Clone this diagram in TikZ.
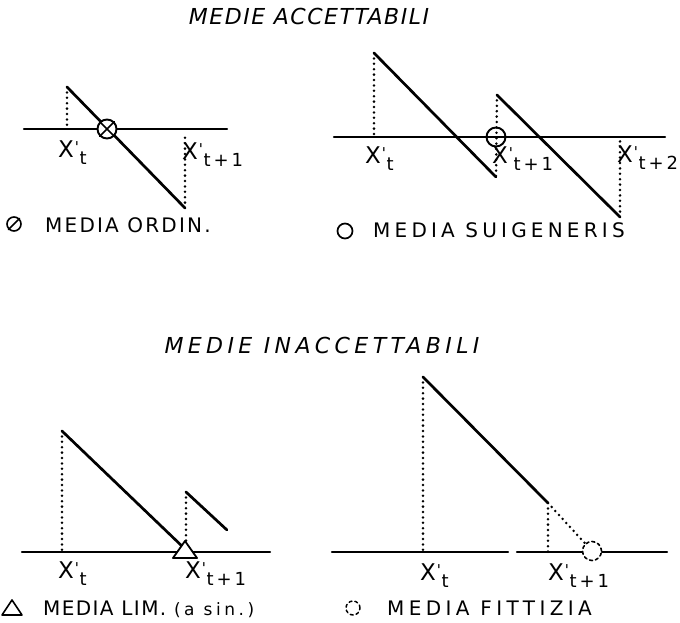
\documentclass[tikz,border=0pt]{standalone}
\usepackage{fontspec}
\newfontfamily\hand{DejaVu Sans}
\usetikzlibrary{calc}

\newcommand{\xsub}[1]{X\kern1pt\raisebox{5pt}{\fontsize{15}{15}\selectfont\textquotesingle}\kern0.5pt\raisebox{-7pt}{\fontsize{18}{18}\selectfont\addfontfeature{LetterSpace=10}#1}}

\begin{document}
\begin{tikzpicture}[x=1pt, y=-1pt, line cap=round, line join=round,
  axis/.style={line width=2.2pt},
  trend/.style={line width=2.7pt},
  guide/.style={line width=2.8pt, dash pattern=on 0pt off 5.4pt},
  xlab/.style={font=\hand\fontsize{23}{23}\selectfont, inner sep=0pt, anchor=base west},
  legend/.style={font=\hand\fontsize{20}{20}\selectfont, inner sep=0pt, anchor=base west},
  heading/.style={font=\hand\itshape\fontsize{22}{22}\selectfont, inner sep=0pt}]
  \useasboundingbox (0,0) rectangle (680,622);

  % titoli
  \node[heading] (titA) at (309,16) {\addfontfeature{LetterSpace=7}MEDIE ACCETTABILI};
  \node[heading] (titB) at (322,345) {\addfontfeature{LetterSpace=20}MEDIE INACCETTABILI};

  % media ordinaria
  \coordinate (oL) at (24,129);
  \coordinate (oR) at (227,129);
  \coordinate (oA) at (67,87);
  \coordinate (oB) at (185,208);
  \draw[axis] (oL) -- (oR);
  \draw[trend] (oA) -- (oB);
  \draw[guide] (oA) -- (oA |- oL);
  \draw[guide] (oB) -- ($(oB |- oL)+(0,8)$);
  \node[circle, draw, line width=1.9pt, fill=white, minimum size=19pt, inner sep=0pt] (oM) at (107,129) {};
  \draw[line width=1.6pt] (oM.north west) -- (oM.south east) (oM.north east) -- (oM.south west);
  \node[xlab] (oX1) at (58,157) {\xsub{t}};
  \node[xlab] (oX2) at (182,159) {\xsub{t\,+\,1}};
  \node[circle, draw, line width=1.6pt, minimum size=14pt, inner sep=0pt] (oS) at (14,224) {};
  \draw[line width=1.5pt] (oS.south west) -- (oS.north east);
  \node[legend] (oT) at (45,232) {\addfontfeature{LetterSpace=11}MEDIA ORDIN.};

  % media sui generis
  \coordinate (sL) at (334,137);
  \coordinate (sR) at (665,137);
  \coordinate (sA) at (374,53);
  \coordinate (sB) at (496,177);
  \coordinate (sC) at (497,95);
  \coordinate (sD) at (620,217);
  \draw[axis] (sL) -- (sR);
  \draw[trend] (sA) -- (sB);
  \draw[trend] (sC) -- (sD);
  \draw[guide] (sA) -- (sA |- sL);
  \draw[guide] (sC) -- (sB);
  \draw[guide] (sD) -- (sD |- sL);
  \node[circle, draw, line width=1.9pt, minimum size=19pt, inner sep=0pt] (sM) at (496,137) {};
  \node[xlab] (sX1) at (365,163) {\xsub{t}};
  \node[xlab] (sX2) at (492,163) {\xsub{t\,+\,1}};
  \node[xlab] (sX3) at (617,162) {\xsub{t\,+\,2}};
  \node[circle, draw, line width=1.7pt, minimum size=15pt, inner sep=0pt] (sS) at (345,231) {};
  \node[legend] (sT) at (373,237) {\addfontfeature{LetterSpace=21}MEDIA SUIGENERIS};

  % media limite
  \coordinate (lL) at (22,552);
  \coordinate (lR) at (270,552);
  \coordinate (lA) at (62,431);
  \coordinate (lB) at (184,548);
  \coordinate (lC) at (186,492);
  \coordinate (lD) at (227,530);
  \draw[axis] (lL) -- (lR);
  \draw[trend] (lA) -- (lB);
  \draw[trend] (lC) -- (lD);
  \draw[guide] (lA) -- (lA |- lL);
  \draw[guide] (lC) -- (lC |- lL);
  \coordinate (lM) at (185,550);
  \draw[line width=1.8pt, fill=white] (lM) ++(0,-9) -- ++(-12,17) -- ++(24,0) -- cycle;
  \node[xlab] (lX1) at (58,578) {\xsub{t}};
  \node[xlab] (lX2) at (185,578) {\xsub{t\,+\,1}};
  \coordinate (lS) at (12,608);
  \draw[line width=1.6pt] (lS) ++(0,-8) -- ++(-10,15) -- ++(20,0) -- cycle;
  \node[legend] (lT) at (43,615) {\addfontfeature{LetterSpace=7}MEDIA LIM. {\fontsize{17}{17}\selectfont\addfontfeature{LetterSpace=21}(a sin.)}};

  % media fittizia
  \coordinate (fL) at (332,552);
  \coordinate (fG) at (508,552);
  \coordinate (fH) at (517,552);
  \coordinate (fR) at (667,552);
  \coordinate (fA) at (423,377);
  \coordinate (fB) at (548,503);
  \draw[axis] (fL) -- (fG);
  \draw[axis] (fH) -- (fR);
  \draw[trend] (fA) -- (fB);
  \draw[guide] (fA) -- (fA |- fL);
  \draw[guide] (fB) -- (fB |- fL);
  \node[circle, draw, dashed, line width=1.6pt, fill=white, minimum size=19pt, inner sep=0pt] (fM) at (592,551) {};
  \draw[guide] (fB) -- (fM);
  \node[xlab] (fX1) at (420,580) {\xsub{t}};
  \node[xlab] (fX2) at (548,580) {\xsub{t\,+\,1}};
  \node[circle, draw, dashed, line width=1.5pt, minimum size=14pt, inner sep=0pt] (fS) at (353,608) {};
  \node[legend] (fT) at (387,615) {\addfontfeature{LetterSpace=22}MEDIA FITTIZIA};
\end{tikzpicture}
\end{document}
